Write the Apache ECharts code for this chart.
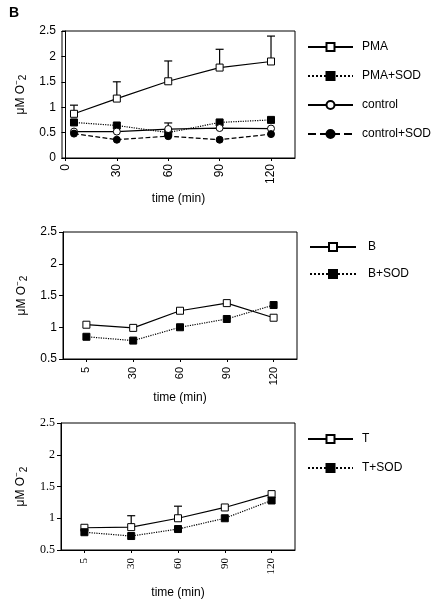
<!DOCTYPE html>
<html><head><meta charset="utf-8">
<script src="https://cdn.jsdelivr.net/npm/echarts@6/dist/echarts.min.js"></script>
<style>html,body{margin:0;padding:0;background:#fff}#c{width:437px;height:600px}</style>
</head><body><div id="c"></div>
<script>
// Panel 1 (value x axis)
const times1 = [5, 30, 60, 90, 120];
const xTicks1 = [0, 30, 60, 90, 120];
const pma = [0.87, 1.17, 1.51, 1.78, 1.90];
const pmaErrTop = [1.04, 1.50, 1.91, 2.14, 2.40];
const pmaSod = [0.70, 0.64, 0.50, 0.70, 0.75];
const control = [0.52, 0.52, 0.57, 0.59, 0.58];
const controlErrTop = [null, null, 0.69, null, null];
const controlSod = [0.48, 0.36, 0.43, 0.36, 0.47];
// Panel 2
const cats = ['5', '30', '60', '90', '120'];
const bVals = [1.04, 0.99, 1.26, 1.38, 1.15];
const bSodVals = [0.85, 0.79, 1.00, 1.13, 1.35];
// Panel 3
const tVals = [0.85, 0.86, 1.00, 1.17, 1.38];
const tErrTop = [null, 1.04, 1.19, null, null];
const tSodVals = [0.78, 0.72, 0.83, 1.00, 1.28];

const SANS = 'Liberation Sans, Arial, sans-serif';
const SERIF = 'Liberation Serif, Times New Roman, serif';
const pairs = (xs, ys) => xs.map((x, i) => [x, ys[i]]);

const openSq = {symbol: 'rect', symbolSize: 7, itemStyle: {color: '#fff', borderColor: '#000', borderWidth: 1}};
const fillSq = {symbol: 'rect', symbolSize: 7, itemStyle: {color: '#000', borderColor: '#000', borderWidth: 1}};
const openCi = {symbol: 'circle', symbolSize: 7, itemStyle: {color: '#fff', borderColor: '#000', borderWidth: 1}};
const fillCi = {symbol: 'circle', symbolSize: 7, itemStyle: {color: '#000', borderColor: '#000', borderWidth: 1}};

function lineSeries(name, data, idx, marker, type) {
  return Object.assign({
    type: 'line', name, data, xAxisIndex: idx, yAxisIndex: idx,
    showSymbol: true, animation: false, z: 3,
    lineStyle: {color: '#000', width: 1.2, type: type}
  }, marker);
}
function errSeries(xs, tops, vals, idx) {
  const d = [];
  tops.forEach((t, i) => { if (t != null) d.push([xs[i], vals[i], t]); });
  return {
    type: 'custom', xAxisIndex: idx, yAxisIndex: idx, data: d, z: 2, animation: false,
    renderItem(params, api) {
      const p0 = api.coord([api.value(0), api.value(1)]);
      const p1 = api.coord([api.value(0), api.value(2)]);
      return {type: 'group', children: [
        {type: 'line', shape: {x1: p0[0], y1: p0[1], x2: p1[0], y2: p1[1]}, style: {stroke: '#000', lineWidth: 1.2}},
        {type: 'line', shape: {x1: p1[0] - 4, y1: p1[1], x2: p1[0] + 4, y2: p1[1]}, style: {stroke: '#000', lineWidth: 1.2}}
      ]};
    }
  };
}
const yName = '{n|μM O}{sup|−}{sub|2}';
const yNameStyle = {rich: {
  n: {fontSize: 12, fontFamily: SANS, color: '#000', lineHeight: 16},
  sup: {fontSize: 8, fontFamily: SANS, color: '#000', verticalAlign: 'top', lineHeight: 16},
  sub: {fontSize: 10, fontFamily: SANS, color: '#000', verticalAlign: 'bottom', lineHeight: 16}
}};
function yAxis(idx, min, font) {
  return {
    type: 'value', gridIndex: idx, min: min, max: 2.5, interval: 0.5,
    name: yName, nameLocation: 'middle', nameGap: 32, nameRotate: 90, nameTextStyle: yNameStyle,
    axisLine: {show: true, lineStyle: {color: '#000', width: 1}},
    axisTick: {show: true, length: 4, lineStyle: {color: '#000'}},
    splitLine: {show: false},
    axisLabel: {color: '#000', fontSize: 12, fontFamily: font, margin: 6}
  };
}
const xName = {color: '#000', fontSize: 12, fontFamily: SANS};

const option = {
  backgroundColor: '#fff',
  animation: false,
  title: {text: 'B', left: 4, top: 1, textStyle: {fontSize: 14, fontWeight: 'bold', fontFamily: SANS, color: '#000'}},
  grid: [
    {left: 62, top: 31, width: 233, height: 127, show: true, borderColor: '#000', borderWidth: 1, backgroundColor: 'transparent'},
    {left: 63, top: 232, width: 234, height: 127, show: true, borderColor: '#000', borderWidth: 1, backgroundColor: 'transparent'},
    {left: 61, top: 423, width: 234, height: 129, show: true, borderColor: '#000', borderWidth: 1, backgroundColor: 'transparent'}
  ],
  xAxis: [
    {type: 'value', gridIndex: 0, min: -2, max: 134,
     name: 'time (min)', nameLocation: 'middle', nameGap: 35, nameTextStyle: xName,
     axisLine: {show: true, onZero: false, lineStyle: {color: '#000'}},
     axisTick: {show: true, length: 3, customValues: xTicks1, lineStyle: {color: '#000'}},
     axisLabel: {customValues: xTicks1, rotate: 90, color: '#000', fontSize: 12, fontFamily: SANS, margin: 6},
     splitLine: {show: false}},
    {type: 'category', gridIndex: 1, data: cats, boundaryGap: true,
     name: 'time (min)', nameLocation: 'middle', nameGap: 33, nameTextStyle: xName,
     axisLine: {show: true, lineStyle: {color: '#000'}},
     axisTick: {show: true, length: 3, alignWithLabel: true, lineStyle: {color: '#000'}},
     axisLabel: {rotate: 90, color: '#000', fontSize: 11, fontFamily: SANS, margin: 8}},
    {type: 'category', gridIndex: 2, data: cats, boundaryGap: true,
     name: 'time (min)', nameLocation: 'middle', nameGap: 37, nameTextStyle: xName,
     axisLine: {show: true, lineStyle: {color: '#000'}},
     axisTick: {show: true, length: 3, alignWithLabel: true, lineStyle: {color: '#000'}},
     axisLabel: {rotate: 90, color: '#000', fontSize: 11, fontFamily: SERIF, margin: 8}}
  ],
  yAxis: [yAxis(0, 0, SANS), yAxis(1, 0.5, SANS), yAxis(2, 0.5, SERIF)],
  legend: [
    {orient: 'vertical', left: 302, top: 36, itemWidth: 45, itemHeight: 10, itemGap: 17,
     data: ['PMA', 'PMA+SOD', 'control', 'control+SOD'],
     textStyle: {color: '#000', fontSize: 12, fontFamily: SANS, padding: [0, 0, 0, 4]}},
    {orient: 'vertical', left: 304, top: 236, itemWidth: 46, itemHeight: 10, itemGap: 15,
     data: ['B', 'B+SOD'],
     textStyle: {color: '#000', fontSize: 12, fontFamily: SANS, padding: [0, 0, 0, 7]}},
    {orient: 'vertical', left: 302, top: 428, itemWidth: 45, itemHeight: 10, itemGap: 17,
     data: ['T', 'T+SOD'],
     textStyle: {color: '#000', fontSize: 12, fontFamily: SANS, padding: [0, 0, 0, 4]}}
  ],
  series: [
    errSeries(times1, pmaErrTop, pma, 0),
    errSeries(times1, controlErrTop, control, 0),
    lineSeries('PMA', pairs(times1, pma), 0, openSq, 'solid'),
    lineSeries('PMA+SOD', pairs(times1, pmaSod), 0, fillSq, 'dotted'),
    lineSeries('control', pairs(times1, control), 0, openCi, 'solid'),
    lineSeries('control+SOD', pairs(times1, controlSod), 0, fillCi, 'dashed'),
    lineSeries('B', bVals, 1, openSq, 'solid'),
    lineSeries('B+SOD', bSodVals, 1, fillSq, 'dotted'),
    errSeries(cats, tErrTop, tVals, 2),
    lineSeries('T', tVals, 2, openSq, 'solid'),
    lineSeries('T+SOD', tSodVals, 2, fillSq, 'dotted')
  ]
};
const chart = echarts.init(document.getElementById('c'), null, {renderer: 'canvas'});
chart.setOption(option);
</script></body></html>
